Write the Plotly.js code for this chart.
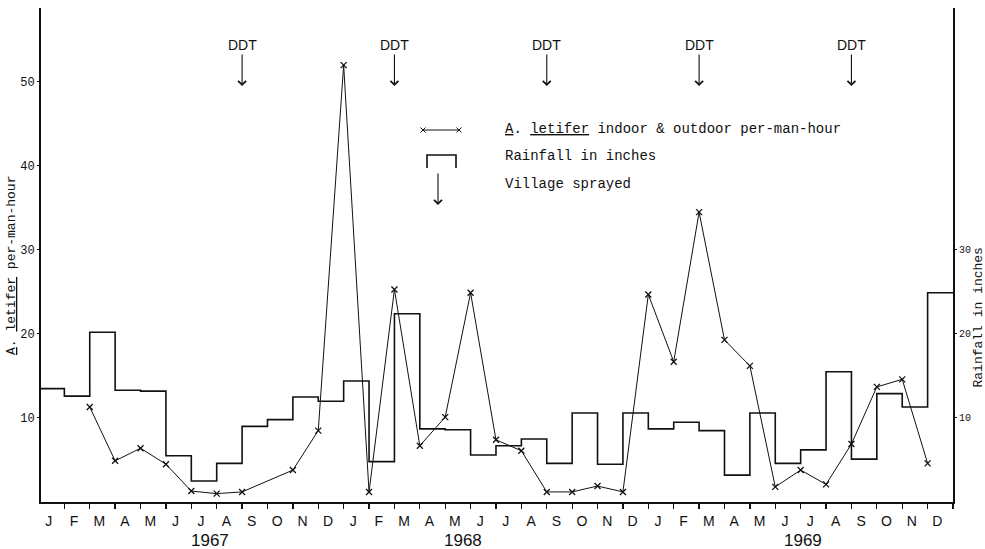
<!DOCTYPE html>
<html>
<head>
<meta charset="utf-8">
<script src="https://cdn.plot.ly/plotly-3.0.1.min.js"></script>
<style>
  html, body { margin: 0; padding: 0; background: #fff; }
  #chart { width: 985px; height: 549px; }
</style>
</head>
<body>
<div id="chart"></div>
<script>
// ---- DATA ----
// Month labels Jan 1967 .. Dec 1969 (36 months)
const monthLetters = ["J","F","M","A","M","J","J","A","S","O","N","D"];
const years = ["1967", "1968", "1969"];
const yearLabelPos = [6.73, 16.7, 30.08];   // month-index position of year labels

// Monthly rainfall (inches), Jan 1967 .. Dec 1969
const rainfall = [
  13.5, 12.6, 20.2, 13.3, 13.2, 5.5, 2.5, 4.6, 9.0, 9.8, 12.5, 12.0,
  14.4, 4.8, 22.4, 8.7, 8.6, 5.6, 6.7, 7.5, 4.6, 10.6, 4.5, 10.6,
  8.7, 9.5, 8.5, 3.2, 10.6, 4.6, 6.2, 15.5, 5.1, 12.9, 11.3, 24.9
];

// A. letifer per-man-hour (points at month boundaries, index from Jan 1967 start)
const mosqMonth = [2, 3, 4, 5, 6, 7, 8, 10, 11, 12, 13, 14, 15, 16, 17, 18, 19, 20, 21, 22, 23,
                   24, 25, 26, 27, 28, 29, 30, 31, 32, 33, 34, 35];
const mosqValue = [11.3, 4.9, 6.4, 4.5, 1.3, 1.0, 1.2, 3.8, 8.5, 52.0, 1.2, 25.3, 6.7, 10.1, 24.9, 7.4, 6.1, 1.2, 1.2, 1.9, 1.2,
                   24.7, 16.7, 34.5, 19.3, 16.2, 1.8, 3.8, 2.1, 6.9, 13.7, 14.6, 4.6];

// DDT spraying (month-boundary index)
const ddtMonth = [8, 14, 20, 26, 32];

const leftTicks = [10, 20, 30, 40, 50];
const rightTicks = [10, 20, 30];

// ---- BUILD ----
const nMonths = rainfall.length;
const rainX = [], rainY = [];
for (let i = 0; i < nMonths; i++) { rainX.push(i); rainY.push(rainfall[i]); }
rainX.push(nMonths); rainY.push(rainfall[nMonths - 1]);

const tickVals = [], tickText = [];
for (let i = 0; i < nMonths; i++) { tickVals.push(i + 0.5); tickText.push(monthLetters[i % 12]); }

// pixel -> paper helpers for decorations (plot area: x 41..953, y 8..502)
const L = 41, R = 32, T = 8, B = 47, W = 985, H = 549;
const pw = W - L - R, ph = H - T - B;
const xp = px => (px - L) / pw;
const yp = py => (H - B - py) / ph;

const mono = "Liberation Mono, Courier New, monospace";
const sans = "Liberation Sans, Arial, sans-serif";
const ink = "#111";

const traces = [
  {
    x: rainX, y: rainY, type: "scatter", mode: "lines",
    line: { shape: "hv", color: ink, width: 1.6 },
    hoverinfo: "skip", showlegend: false
  },
  {
    x: mosqMonth, y: mosqValue, type: "scatter", mode: "lines+markers",
    line: { color: ink, width: 1 },
    marker: { symbol: "x-thin-open", size: 6, line: { color: ink, width: 1.3 }, color: ink },
    hoverinfo: "skip", showlegend: false
  }
];

const annotations = [];
const shapes = [];

// DDT arrows
ddtMonth.forEach(k => {
  annotations.push({
    x: k, y: yp(86), xref: "x", yref: "paper",
    text: "DDT", showarrow: true, ax: 0, ay: -41,
    arrowhead: 4, arrowsize: 1.4, arrowwidth: 1.1, arrowcolor: ink,
    font: { family: sans, size: 14, color: ink }
  });
});

// Year labels
years.forEach((yr, i) => {
  annotations.push({
    x: yearLabelPos[i], y: yp(540), xref: "x", yref: "paper",
    text: yr, showarrow: false, xanchor: "center", yanchor: "middle",
    font: { family: sans, size: 17, color: ink }
  });
});

// Axis titles
annotations.push({
  x: xp(12), y: yp(266), xref: "paper", yref: "paper", textangle: -90,
  xanchor: "center", yanchor: "middle",
  text: "<u>A</u>. <u>letifer</u> per-man-hour", showarrow: false,
  font: { family: mono, size: 13, color: ink }
});
annotations.push({
  x: xp(977.5), y: yp(318), xref: "paper", yref: "paper", textangle: -90,
  xanchor: "center", yanchor: "middle",
  text: "Rainfall in inches", showarrow: false,
  font: { family: mono, size: 13, color: ink }
});

// Legend
const legendTexts = [
  "<u>A</u>. <u>letifer</u> indoor &amp; outdoor per-man-hour",
  "Rainfall in inches",
  "Village sprayed"
];
const legendY = [129, 156, 184];
legendTexts.forEach((t, i) => {
  annotations.push({
    x: xp(503), y: yp(legendY[i]), xref: "paper", yref: "paper",
    xanchor: "left", yanchor: "middle", text: t, showarrow: false,
    font: { family: mono, size: 14, color: ink }
  });
});
// legend sample: x----x
shapes.push({ type: "line", xref: "paper", yref: "paper",
  x0: xp(423), x1: xp(459), y0: yp(130), y1: yp(130), line: { color: ink, width: 1 } });
[423, 459].forEach(cx => {
  const d = 2.5;
  shapes.push({ type: "line", xref: "paper", yref: "paper",
    x0: xp(cx - d), x1: xp(cx + d), y0: yp(130 - d), y1: yp(130 + d), line: { color: ink, width: 1 } });
  shapes.push({ type: "line", xref: "paper", yref: "paper",
    x0: xp(cx - d), x1: xp(cx + d), y0: yp(130 + d), y1: yp(130 - d), line: { color: ink, width: 1 } });
});
// legend sample: bracket
shapes.push({ type: "path", xref: "paper", yref: "paper",
  path: `M ${xp(427)} ${yp(168)} L ${xp(427)} ${yp(155)} L ${xp(456)} ${yp(155)} L ${xp(456)} ${yp(168)}`,
  line: { color: ink, width: 1.6 } });
// legend sample: arrow
annotations.push({
  x: xp(438), y: yp(205), xref: "paper", yref: "paper",
  text: "", showarrow: true, ax: 0, ay: -33,
  arrowhead: 4, arrowsize: 1.4, arrowwidth: 1.1, arrowcolor: ink
});

const layout = {
  width: W, height: H,
  margin: { l: L, r: R, t: T, b: B, pad: 0 },
  paper_bgcolor: "#fff", plot_bgcolor: "#fff",
  font: { color: ink, family: mono },
  showlegend: false,
  xaxis: {
    range: [0.08, 36], showgrid: false, zeroline: false,
    showline: true, linecolor: ink, linewidth: 2,
    tickmode: "array", tickvals: tickVals, ticktext: tickText,
    ticks: "", ticklabelstandoff: 5, ticklabelshift: -3,
    tickfont: { family: sans, size: 14, color: ink },
    minor: { tickmode: "linear", tick0: 0, dtick: 1, ticks: "outside", ticklen: 5, tickwidth: 1.3, tickcolor: ink, showgrid: false },
    fixedrange: true
  },
  yaxis: {
    range: [0, 58.8], showgrid: false, zeroline: false,
    showline: true, linecolor: ink, linewidth: 2,
    tickmode: "array", tickvals: leftTicks,
    ticks: "outside", ticklen: 2, tickcolor: ink,
    tickfont: { family: mono, size: 12, color: ink },
    fixedrange: true
  },
  yaxis2: {
    overlaying: "y", side: "right",
    range: [0, 58.8], showgrid: false, zeroline: false,
    showline: true, linecolor: ink, linewidth: 2,
    tickmode: "array", tickvals: rightTicks,
    ticks: "outside", ticklen: 2, tickcolor: ink,
    tickfont: { family: mono, size: 10, color: ink },
    fixedrange: true
  },
  annotations: annotations,
  shapes: shapes
};

// invisible trace so the right axis is drawn
traces.push({ x: [0], y: [0], yaxis: "y2", type: "scatter", mode: "markers",
  marker: { opacity: 0 }, hoverinfo: "skip", showlegend: false });

Plotly.newPlot("chart", traces, layout, { staticPlot: true, displayModeBar: false });
</script>
</body>
</html>
